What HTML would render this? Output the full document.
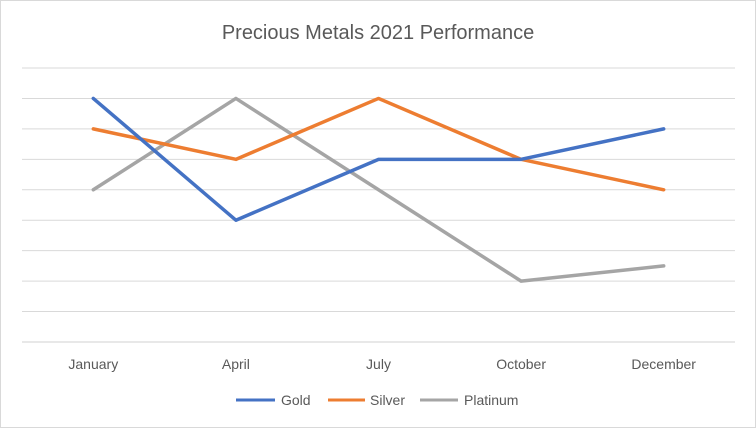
<!DOCTYPE html>
<html><head><meta charset="utf-8"><style>
body{margin:0;background:#fff;}
svg{display:block;font-family:"Liberation Sans",sans-serif;}
</style></head><body>
<svg id="chart" width="756" height="428">
<rect x="0.5" y="0.5" width="755" height="427" fill="#fff" stroke="#d9d9d9"/>
<text x="378" y="39" text-anchor="middle" font-size="20" fill="#595959">Precious Metals 2021 Performance</text>
<g id="grid"></g><g id="xlabels"></g><g id="series"></g>
<g>
<line x1="236" y1="400" x2="275" y2="400" stroke="#4472c4" stroke-width="3"/>
<text x="281" y="405" font-size="14" fill="#595959">Gold</text>
<line x1="328" y1="400" x2="365" y2="400" stroke="#ed7d31" stroke-width="3"/>
<text x="370" y="405" font-size="14" fill="#595959">Silver</text>
<line x1="420" y1="400" x2="458" y2="400" stroke="#a5a5a5" stroke-width="3"/>
<text x="464" y="405" font-size="14" fill="#595959">Platinum</text>
</g>
</svg>
<script>
const categories=["January","April","July","October","December"];
const gold=[8,4,6,6,7];
const silver=[7,6,8,6,5];
const platinum=[5,8,5,2,2.5];
const yMax=9;
const NS="http://www.w3.org/2000/svg";
const plotLeft=22,plotRight=735,plotTop=68,plotBottom=342;
const bandW=(plotRight-plotLeft)/categories.length;
function xPos(i){return plotLeft+bandW*(i+0.5);}
function yPos(v){return plotBottom-(v/yMax)*(plotBottom-plotTop);}
const grid=document.getElementById('grid');
for(let t=0;t<=yMax;t++){
 const l=document.createElementNS(NS,'line');
 l.setAttribute('x1',plotLeft);l.setAttribute('x2',plotRight);
 l.setAttribute('y1',yPos(t));l.setAttribute('y2',yPos(t));
 l.setAttribute('stroke',t===0?'#d0d0d0':'#d9d9d9');l.setAttribute('stroke-width','1');
 
 
 grid.appendChild(l);
}
const xl=document.getElementById('xlabels');
categories.forEach((c,i)=>{
 const t=document.createElementNS(NS,'text');
 t.setAttribute('x',xPos(i));t.setAttribute('y',369);t.setAttribute('text-anchor','middle');
 t.setAttribute('font-size','14');t.setAttribute('fill','#595959');
 t.textContent=c;
 
 
 xl.appendChild(t);
});
const sg=document.getElementById('series');
[[platinum,'#a5a5a5','platinum-line'],[silver,'#ed7d31','silver-line'],[gold,'#4472c4','gold-line']].forEach(([d,c,n])=>{
 const p=document.createElementNS(NS,'polyline');
 p.setAttribute('points',d.map((v,i)=>xPos(i)+','+yPos(v)).join(' '));
 p.setAttribute('fill','none');p.setAttribute('stroke',c);p.setAttribute('stroke-width','3.5');
 p.setAttribute('stroke-linejoin','round');p.setAttribute('stroke-linecap','round');
 
 
 sg.appendChild(p);
});
</script>
</body></html>
